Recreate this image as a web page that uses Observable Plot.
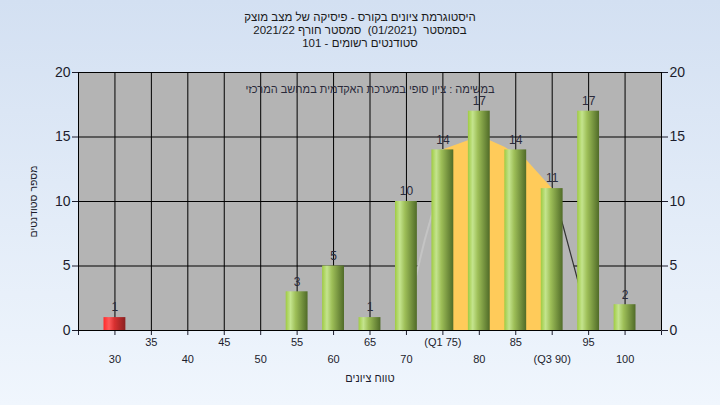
<!DOCTYPE html>
<html><head><meta charset="utf-8">
<script src="https://cdn.jsdelivr.net/npm/d3@7"></script>
<script src="https://cdn.jsdelivr.net/npm/@observablehq/plot@0.6"></script>
<style>
html,body{margin:0;padding:0;}
body{width:720px;height:405px;overflow:hidden;background:linear-gradient(#d3e0f2,#f0f6fd);font-family:"Liberation Sans","DejaVu Sans",sans-serif;}
#title{height:52px;box-sizing:border-box;padding-top:11px;text-align:center;font-size:11.5px;line-height:13px;color:#1a1a1a;white-space:pre;}
#chart svg{display:block;}
</style></head><body>
<div id="title" dir="rtl"></div>
<div id="chart"></div>
<script>
const titleLines = [
  "היסטוגרמת ציונים בקורס - פיסיקה של מצב מוצק",
  "בסמסטר  (01/2021)  סמסטר חורף 2021/22",
  "סטודנטים רשומים - 101"
];
const annotation = "במשימה : ציון סופי במערכת האקדמית במחשב המרכזי";
const xTitle = "טווח ציונים";
const yTitle = "מספר סטודנטים";

const grades = [30, 35, 40, 45, 50, 55, 60, 65, 70, 75, 80, 85, 90, 95, 100];
const counts = [1, 0, 0, 0, 0, 3, 5, 1, 10, 14, 17, 14, 11, 17, 2];
const tickLabels = ["30", "35", "40", "45", "50", "55", "60", "65", "70", "(Q1 75)", "80", "85", "(Q3 90)", "95", "100"];
const gridTicks = [25, 30, 35, 40, 45, 50, 55, 60, 65, 70, 75, 80, 85, 90, 95, 100, 105];
const yTicks = [0, 5, 10, 15, 20];
const q1 = 75, q3 = 90;
const failBelow = 55;

// distribution curve drawn behind the bars
const curveX = [69.5, 72.5, 73.5, 75, 78.5, 81.5, 83.5, 86.5, 90, 91.5, 93.5, 95.2];
const curveY = [0, 7, 9, 14, 14.7, 14.7, 14.2, 13.2, 11, 8.1, 3.9, 0];

document.getElementById("title").innerHTML = titleLines.map(t => `<div>${t}</div>`).join("");

const data = grades.map((g, i) => ({grade: g, count: counts[i], label: tickLabels[i], i}));
const nonzero = data.filter(d => d.count > 0);
const curve = curveX.map((x, i) => ({x, y: curveY[i]}));
const inner = curve.filter(d => d.x >= q1 && d.x <= q3);
const leftFlank = curve.filter(d => d.x <= q1);
const rightFlank = curve.filter(d => d.x >= q3);
const halfWidth = 1.5;

const chart = Plot.plot({
  width: 720,
  height: 353,
  marginTop: 20,
  marginBottom: 75,
  marginLeft: 78,
  marginRight: 59,
  style: {background: "transparent", fontSize: "14px", fontFamily: "Liberation Sans, DejaVu Sans, sans-serif", color: "#1c1c2c", overflow: "visible"},
  x: {domain: [25, 105], ticks: gridTicks, tickSize: 5, tickFormat: () => "", label: null},
  y: {domain: [0, 20], ticks: yTicks, axis: "both", tickSize: 6, tickPadding: 2, label: null},
  marks: [
    Plot.frame({fill: "#b4b4b4"}),
    Plot.ruleX(gridTicks, {stroke: "#000", strokeWidth: 1}),
    Plot.ruleY(yTicks, {stroke: "#000", strokeWidth: 1}),
    Plot.areaY(curve, {x: "x", y: "y", fill: "#b6b6b6"}),
    Plot.areaY(inner, {x: "x", y: "y", fill: "#ffcb5a"}),
    Plot.line(leftFlank, {x: "x", y: "y", stroke: "#c4c4c4", strokeWidth: 2}),
    Plot.line(rightFlank, {x: "x", y: "y", stroke: "#333", strokeWidth: 1.2}),
    Plot.rectY(nonzero.filter(d => d.grade >= failBelow), {x1: d => d.grade - halfWidth, x2: d => d.grade + halfWidth, y1: 0, y2: "count", fill: "url(#gGreen)", ariaLabel: "bars"}),
    Plot.rectY(nonzero.filter(d => d.grade < failBelow), {x1: d => d.grade - halfWidth, x2: d => d.grade + halfWidth, y1: 0, y2: "count", fill: "url(#gRed)", ariaLabel: "bars"}),
    Plot.ruleY([0], {stroke: "#000", strokeWidth: 1}),
    Plot.text(nonzero, {x: "grade", y: "count", text: d => String(d.count), dy: -10, fontSize: 12, fill: "#2a2a3a"}),
    Plot.text(data.filter(d => d.i % 2 === 1), {x: "grade", frameAnchor: "bottom", dy: 15, text: "label", fontSize: 11, fill: "#1c1c2c"}),
    Plot.text(data.filter(d => d.i % 2 === 0), {x: "grade", frameAnchor: "bottom", dy: 32, text: "label", fontSize: 11, fill: "#1c1c2c"}),
    Plot.text([xTitle], {frameAnchor: "bottom", dy: 51, text: d => d, fontSize: 11, fill: "#1c1c2c"}),
    Plot.text([yTitle], {frameAnchor: "left", dx: -45, rotate: -90, textAnchor: "middle", text: d => d, fontSize: 10.5, fill: "#1c1c2c"}),
    Plot.text([annotation], {frameAnchor: "top", dy: 13, text: d => d, fontSize: 11, fill: "#2a2a3a"})
  ]
});

const svg = d3.select(chart);
const defs = svg.insert("defs", ":first-child");
const gG = defs.append("linearGradient").attr("id", "gGreen").attr("x1", 0).attr("x2", 1).attr("y1", 0).attr("y2", 0);
[[0, "#9fcb42"], [0.22, "#c4e48e"], [0.45, "#9ebf58"], [1, "#506b28"]].forEach(([o, c]) => gG.append("stop").attr("offset", o).attr("stop-color", c));
const gR = defs.append("linearGradient").attr("id", "gRed").attr("x1", 0).attr("x2", 1).attr("y1", 0).attr("y2", 0);
[[0, "#ff2a2a"], [0.25, "#ff5a5a"], [0.5, "#d83030"], [1, "#8a2020"]].forEach(([o, c]) => gR.append("stop").attr("offset", o).attr("stop-color", c));
svg.selectAll('g[aria-label="bars"]').style("filter", "drop-shadow(5px 3px 2.5px rgba(0,0,0,0.6))");

document.getElementById("chart").appendChild(chart);
</script>
</body></html>
